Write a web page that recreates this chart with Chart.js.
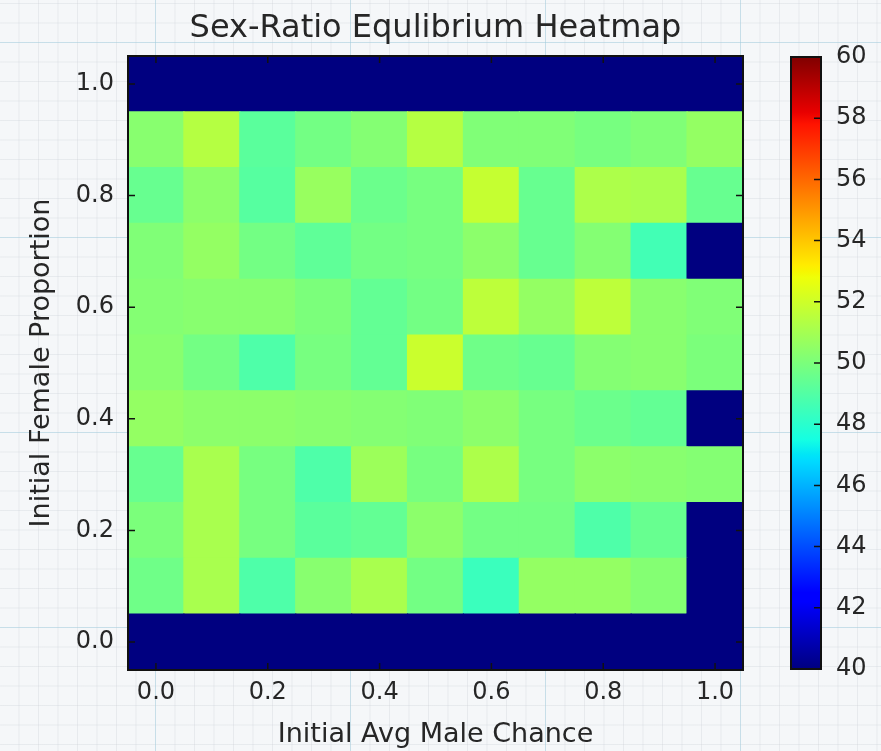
<!DOCTYPE html>
<html>
<head>
<meta charset="utf-8">
<script src="https://cdn.jsdelivr.net/npm/chart.js@4.4.1/dist/chart.umd.min.js"></script>
<style>
  html, body { margin: 0; padding: 0; }
  body {
    width: 881px;
    height: 751px;
    position: relative;
    overflow: hidden;
    background-color: #f5f7f9;
    background-image:
      linear-gradient(to right, rgba(150, 205, 225, 0.4) 1px, transparent 1px),
      linear-gradient(to bottom, rgba(150, 205, 225, 0.4) 1px, transparent 1px),
      linear-gradient(to right, rgba(205, 210, 216, 0.35) 1px, transparent 1px),
      linear-gradient(to bottom, rgba(205, 210, 216, 0.35) 1px, transparent 1px);
    background-size: 195px 195px, 195px 195px, 19.5px 19.5px, 19.5px 19.5px;
    background-position: 155px 42px, 155px 42px, 155px 42px, 155px 42px;
  }
  #heat { position: absolute; left: 0; top: 0; }
  #bar { position: absolute; left: 760px; top: 0; }
</style>
</head>
<body>
<canvas id="heat" width="881" height="751"></canvas>
<canvas id="bar" width="121" height="751"></canvas>
<script>
// x categories (initial avg male chance) and y rows (initial female proportion)
var xLabels = ['0.0', '0.1', '0.2', '0.3', '0.4', '0.5', '0.6', '0.7', '0.8', '0.9', '1.0']
var yValues = [0.0, 0.1, 0.2, 0.3, 0.4, 0.5, 0.6, 0.7, 0.8, 0.9, 1.0]

// equilibrium male percentage, one array per row (y), left to right (x)
var row00 = [40, 40, 40, 40, 40, 40, 40, 40, 40, 40, 40]
var row01 = [49.7, 51.1, 48.9, 50.3, 51.1, 49.8, 48.4, 50.6, 50.6, 50.2, 40]
var row02 = [50.0, 51.1, 49.9, 49.2, 49.4, 50.4, 49.8, 49.8, 48.9, 49.5, 40]
var row03 = [49.5, 51.1, 49.9, 48.9, 50.8, 49.9, 51.2, 49.9, 50.4, 50.3, 50.2]
var row04 = [50.6, 50.4, 50.4, 50.3, 50.2, 50.1, 50.4, 49.9, 49.6, 49.4, 40]
var row05 = [50.3, 49.8, 48.9, 49.9, 49.4, 51.9, 49.7, 49.5, 50.2, 50.3, 50.0]
var row06 = [50.2, 50.3, 50.3, 50.0, 49.4, 49.8, 51.6, 50.6, 51.6, 50.3, 50.1]
var row07 = [50.1, 50.6, 49.8, 49.3, 49.8, 49.9, 50.4, 49.5, 50.2, 48.6, 40]
var row08 = [49.5, 50.4, 49.1, 50.7, 49.6, 49.9, 51.8, 49.5, 51.2, 51.1, 49.5]
var row09 = [50.3, 51.4, 49.2, 49.8, 50.2, 51.4, 50.1, 50.1, 49.9, 50.1, 50.6]
var row10 = [40, 40, 40, 40, 40, 40, 40, 40, 40, 40, 40]
var rows = [row00, row01, row02, row03, row04, row05, row06, row07, row08, row09, row10]

// colour scale range
var cbMin = 40
var cbMax = 60

var textColor = '#262626'
var fontFamily = "'DejaVu Sans', sans-serif"

// matplotlib "jet" segments
var jetR = [[0, 0], [0.35, 0], [0.66, 1], [0.89, 1], [1, 0.5]]
var jetG = [[0, 0], [0.125, 0], [0.375, 1], [0.64, 1], [0.91, 0], [1, 0]]
var jetB = [[0, 0.5], [0.11, 1], [0.34, 1], [0.65, 0], [1, 0]]

function interp(pts, t) {
      for (var i = 1; i < pts.length; i++) {
            if (t <= pts[i][0]) {
                  var a = pts[i - 1], b = pts[i]
                  return a[1] + (b[1] - a[1]) * (t - a[0]) / (b[0] - a[0])
            }
      }
      return pts[pts.length - 1][1]
}

function jetAt(t) {
      return 'rgb(' + Math.round(255 * interp(jetR, t)) + ',' +
            Math.round(255 * interp(jetG, t)) + ',' +
            Math.round(255 * interp(jetB, t)) + ')'
}

function jet(v) {
      var t = Math.min(1, Math.max(0, (v - cbMin) / (cbMax - cbMin)))
      return jetAt(t)
}

// black frame plus small inward tick marks, matplotlib classic style
function framePlugin(id, tickSides, tickFilter) {
      return {
            id: id,
            afterDatasetsDraw: function(chart) {
                  var ctx = chart.ctx
                  var a = chart.chartArea
                  ctx.save()
                  ctx.strokeStyle = '#111'
                  ctx.lineWidth = 1.5
                  ctx.beginPath()
                  var x = chart.scales.x, y = chart.scales.y
                  if (tickSides.x && x) {
                        x.ticks.forEach(function(t, i) {
                              if (!tickFilter(i)) return
                              var px = x.getPixelForTick(i)
                              ctx.moveTo(px, a.bottom); ctx.lineTo(px, a.bottom - 7)
                              ctx.moveTo(px, a.top); ctx.lineTo(px, a.top + 7)
                        })
                  }
                  if (y) {
                        y.ticks.forEach(function(t, i) {
                              var py = y.getPixelForTick(i)
                              if (tickSides.left) { ctx.moveTo(a.left, py); ctx.lineTo(a.left + 7, py) }
                              ctx.moveTo(a.right, py); ctx.lineTo(a.right - 7, py)
                        })
                  }
                  ctx.stroke()
                  ctx.lineWidth = 2
                  ctx.strokeRect(a.left, a.top, a.width, a.height)
                  ctx.restore()
            }
      }
}

/*
heatmap: one floating-bar dataset per row, bars overlap instead of grouping
*/
var datasets = rows.map(function(row, r) {
      return {
            data: row.map(function() { return [yValues[r] - 0.05, yValues[r] + 0.05] }),
            backgroundColor: row.map(jet),
            borderWidth: 0,
            inflateAmount: 0.6,
            grouped: false,
            barPercentage: 1,
            categoryPercentage: 1
      }
})

var heat = new Chart(document.getElementById('heat'), {
      type: 'bar',
      data: {
            labels: xLabels,
            datasets: datasets
      },
      options: {
            responsive: false,
            animation: false,
            layout: { padding: { left: 0, right: 10, top: 0, bottom: 0 } },
            plugins: {
                  legend: { display: false },
                  tooltip: { enabled: false },
                  title: {
                        display: true,
                        text: 'Sex-Ratio Equlibrium Heatmap',
                        color: textColor,
                        font: { family: fontFamily, size: 32, weight: 'normal' },
                        padding: { top: 9, bottom: 8.6 }
                  }
            },
            scales: {
                  x: {
                        type: 'category',
                        offset: true,
                        grid: { display: false, drawTicks: false },
                        border: { display: false },
                        ticks: {
                              autoSkip: false,
                              maxRotation: 0,
                              padding: 8,
                              color: textColor,
                              font: { family: fontFamily, size: 24 },
                              callback: function(v, i) { return i % 2 === 0 ? xLabels[i] : '' }
                        },
                        title: {
                              display: true,
                              text: 'Initial Avg Male Chance',
                              color: textColor,
                              font: { family: fontFamily, size: 27 },
                              padding: 0
                        },
                        afterFit: function(s) { s.height = 81 }
                  },
                  y: {
                        type: 'linear',
                        min: -0.05,
                        max: 1.05,
                        grid: { display: false, drawTicks: false },
                        border: { display: false },
                        ticks: {
                              stepSize: 0.2,
                              includeBounds: false,
                              padding: 14,
                              color: textColor,
                              font: { family: fontFamily, size: 24 },
                              callback: function(v) { return v.toFixed(1) }
                        },
                        title: {
                              display: true,
                              text: 'Initial Female Proportion',
                              color: textColor,
                              font: { family: fontFamily, size: 27 },
                              padding: { top: 26, bottom: 0 }
                        },
                        afterFit: function(s) { s.width = 128 }
                  },
                  // empty right axis, only reserves room for the colour bar
                  y2: {
                        position: 'right',
                        grid: { display: false },
                        border: { display: false },
                        ticks: { display: false },
                        afterFit: function(s) { s.width = 128 }
                  }
            }
      },
      plugins: [framePlugin('heatFrame', { x: true, left: true }, function(i) { return i % 2 === 0 })]
})

/*
colour bar
*/
var stops = [0, 0.11, 0.125, 0.34, 0.35, 0.375, 0.5, 0.64, 0.65, 0.66, 0.89, 0.91, 1]

var bar = new Chart(document.getElementById('bar'), {
      type: 'bar',
      data: {
            labels: ['ratio'],
            datasets: [{
                  data: [[cbMin, cbMax]],
                  backgroundColor: function(c) {
                        var area = c.chart.chartArea
                        if (!area) return jet(50)
                        var g = c.chart.ctx.createLinearGradient(0, area.bottom, 0, area.top)
                        stops.forEach(function(t) { g.addColorStop(t, jetAt(t)) })
                        return g
                  },
                  borderWidth: 0,
                  barPercentage: 1,
                  categoryPercentage: 1
            }]
      },
      options: {
            responsive: false,
            animation: false,
            layout: { padding: { left: 31, right: 0, top: 57, bottom: 82 } },
            plugins: {
                  legend: { display: false },
                  tooltip: { enabled: false }
            },
            scales: {
                  x: { display: false },
                  y: {
                        position: 'right',
                        min: cbMin,
                        max: cbMax,
                        grid: { display: false, drawTicks: false },
                        border: { display: false },
                        ticks: {
                              stepSize: 2,
                              padding: 15,
                              color: textColor,
                              font: { family: fontFamily, size: 24 }
                        },
                        afterFit: function(s) { s.width = 60 }
                  }
            }
      },
      plugins: [framePlugin('barFrame', { x: false, left: false }, function() { return false })]
})
</script>
</body>
</html>
